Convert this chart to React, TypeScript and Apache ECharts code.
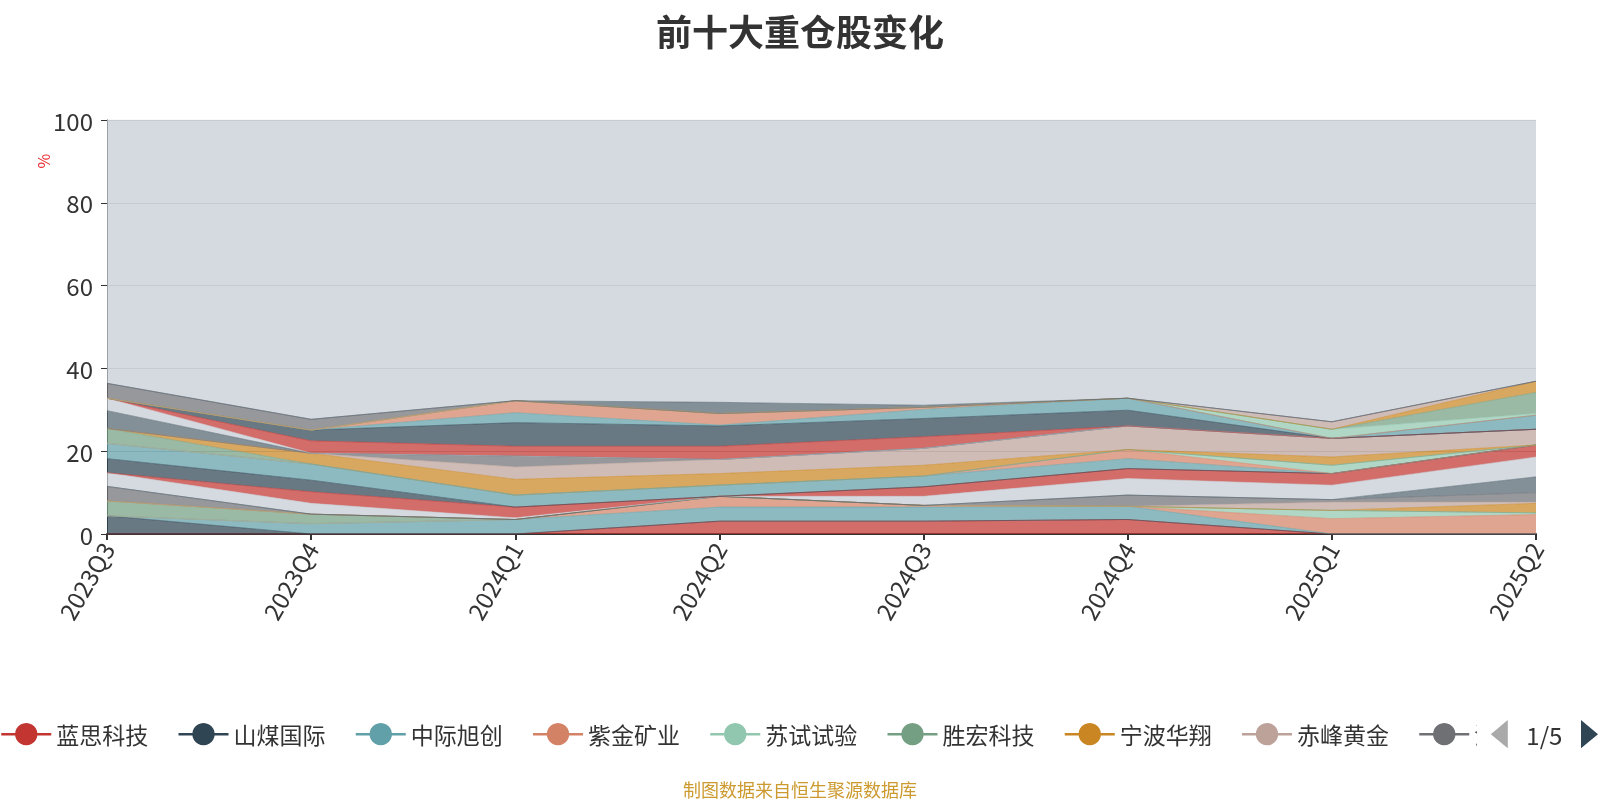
import React, { useEffect, useRef } from 'react';
import * as echarts from 'echarts';

const categories = ['2023Q3', '2023Q4', '2024Q1', '2024Q2', '2024Q3', '2024Q4', '2025Q1', '2025Q2'];

const yTicks = { min: 0, max: 100, interval: 20 };

const palette = ['#c23531', '#2f4554', '#61a0a8', '#d48265', '#91c7ae', '#749f83', '#ca8622', '#bda29a', '#6e7074', '#546570', '#c4ccd3'];

const stockNames = [
  '蓝思科技', '山煤国际', '中际旭创', '紫金矿业', '苏试试验', '胜宏科技', '宁波华翔', '赤峰黄金', '沪电股份',
  '天孚通信', '立讯精密', '山东黄金', '兖矿能源', '工业富联', '洛阳钼业', '东山精密', '中国神华', '鹏鼎控股',
  '中金黄金', '生益科技', '陕西煤业', '潞安环能', '北方华创', '深南电路', '光迅科技', '江西铜业', '湖南黄金',
  '景旺电子', '拓普集团', '银泰黄金', '中国海油', '西部矿业', '其他',
];

// holding weight (%) per quarter, in stacking order
const v00 = [0, 0, 0, 3.1, 3.1, 3.5, 0, 0];
const v01 = [4.4, 0, 0, 0, 0, 0, 0, 0];
const v02 = [0, 2.5, 3.5, 3.4, 3.4, 3.2, 0, 0];
const v03 = [0, 0, 0, 2.6, 0.4, 0, 3.7, 4.7];
const v04 = [0, 0, 0, 0, 0, 0, 2.0, 0.4];
const v05 = [3.6, 2.3, 0, 0, 0, 0, 0, 0];
const v06 = [0, 0, 0, 0, 0, 0, 0, 2.3];
const v07 = [0, 0, 0, 0, 0, 0, 2.0, 0.3];
const v08 = [3.5, 0, 0, 0, 0, 2.7, 0.6, 2.3];
const v09 = [0, 0, 0, 0, 0, 0, 0, 3.8];
const v10 = [3.3, 2.6, 0.4, 0, 2.2, 4.0, 3.5, 4.8];
const v11 = [0, 2.8, 2.6, 0, 2.3, 2.4, 2.8, 2.9];
const v12 = [3.4, 2.8, 0, 0, 0, 0, 0, 0];
const v13 = [3.7, 3.9, 2.9, 2.7, 2.6, 2.4, 0, 0];
const v14 = [0, 0, 0, 0, 0, 2.2, 0, 0];
const v15 = [0, 0, 0, 0, 0, 0, 2.0, 0];
const v16 = [3.6, 0, 0, 0, 0, 0, 0, 0];
const v17 = [0, 2.6, 3.8, 2.8, 2.6, 0, 2.0, 0];
const v18 = [0, 0, 3.0, 3.4, 4.1, 5.7, 4.5, 3.8];
const v19 = [0, 0, 2.6, 0, 0, 0, 0, 0];
const v20 = [4.3, 0, 0, 0, 0, 0, 0, 0];
const v21 = [3.0, 0, 0, 0, 0, 0, 0, 0];
const v22 = [0, 3.0, 2.4, 3.2, 2.8, 0, 0, 0];
const v23 = [0, 2.6, 5.7, 4.9, 4.4, 3.8, 0, 0];
const v24 = [0, 0, 2.4, 0.2, 2.2, 2.9, 0, 3.4];
const v25 = [0, 0, 2.9, 2.8, 0.5, 0, 0, 0];
const v26 = [0, 0, 0, 0, 0, 0, 2.2, 0.4];
const v27 = [0, 0, 0, 0, 0, 0, 0, 5.1];
const v28 = [0, 0, 0, 0, 0, 0, 0, 2.7];
const v29 = [0, 0, 0, 0, 0, 0, 1.8, 0];
const v30 = [3.6, 2.6, 0, 0, 0, 0, 0, 0];
const v31 = [0, 0, 0, 2.7, 0.5, 0, 0, 0];
const v32 = [63.6, 72.3, 67.8, 68.2, 68.9, 67.2, 72.9, 63.1];

const seriesValues = [
  v00, v01, v02, v03, v04, v05, v06, v07, v08, v09, v10, v11, v12, v13, v14, v15, v16,
  v17, v18, v19, v20, v21, v22, v23, v24, v25, v26, v27, v28, v29, v30, v31, v32,
];

const FONT = "'Noto Sans CJK SC', 'Noto Sans', sans-serif";

export default function App() {
  const ref = useRef<HTMLDivElement>(null);

  useEffect(() => {
    if (!ref.current) return;
    const chart = echarts.init(ref.current, null, { renderer: 'svg' });
    chart.setOption({
      animation: false,
      color: palette,
      textStyle: { fontFamily: FONT },
      title: {
        text: '前十大重仓股变化',
        left: 'center',
        top: 7,
        textStyle: { fontSize: 36, fontWeight: 'bold', color: '#333', fontFamily: FONT },
      },
      grid: { left: 107, right: 64, top: 120, bottom: 266 },
      legend: {
        type: 'scroll',
        left: 0,
        right: 0,
        top: 720,
        padding: [0, 2, 0, 0],
        itemWidth: 50,
        itemHeight: 28,
        itemGap: 29,
        textStyle: { fontSize: 23, color: '#333', fontFamily: FONT },
        lineStyle: { width: 2.5, opacity: 1 },
        pageIconSize: [17, 30],
        pageIconColor: '#2f4554',
        pageIconInactiveColor: '#aaa',
        pageTextStyle: { fontSize: 24, color: '#333', fontFamily: FONT },
        pageButtonItemGap: 8,
        pageButtonGap: 14,
      },
      xAxis: {
        type: 'category',
        data: categories,
        boundaryGap: false,
        axisLine: { lineStyle: { color: '#333', width: 2 } },
        axisTick: { show: true, length: 6, lineStyle: { color: '#333', width: 2 } },
        axisLabel: { rotate: 60, fontSize: 24, color: '#333', margin: 10, fontFamily: FONT },
        splitLine: { show: false },
      },
      yAxis: {
        type: 'value',
        min: yTicks.min,
        max: yTicks.max,
        interval: yTicks.interval,
        axisLine: { show: true, lineStyle: { color: '#333', width: 1 } },
        axisTick: { show: true, length: 6, lineStyle: { color: '#333' } },
        axisLabel: { fontSize: 24, color: '#333', margin: 14, fontFamily: FONT },
        splitLine: { show: true, lineStyle: { color: '#c8c8c8', width: 1 } },
      },
      graphic: [
        {
          type: 'text',
          x: 43,
          y: 161,
          rotation: Math.PI / 2,
          style: { text: '%', fill: '#e8282e', fontSize: 16, fontFamily: FONT, align: 'center', verticalAlign: 'middle' },
        },
        {
          type: 'text',
          x: 800,
          y: 789,
          style: { text: '制图数据来自恒生聚源数据库', fill: '#cc9a2e', fontSize: 18, fontFamily: FONT, align: 'center', verticalAlign: 'middle' },
        },
      ],
      series: stockNames.map((name, i) => ({
        name,
        type: 'line',
        stack: 'total',
        data: seriesValues[i],
        symbol: 'circle',
        showSymbol: false,
        lineStyle: { width: 1, opacity: 0.55 },
        areaStyle: { opacity: 0.72 },
        emphasis: { disabled: true },
      })),
    });
    return () => chart.dispose();
  }, []);

  return <div ref={ref} style={{ position: 'fixed', left: 0, top: 0, width: 1600, height: 800 }} />;
}
